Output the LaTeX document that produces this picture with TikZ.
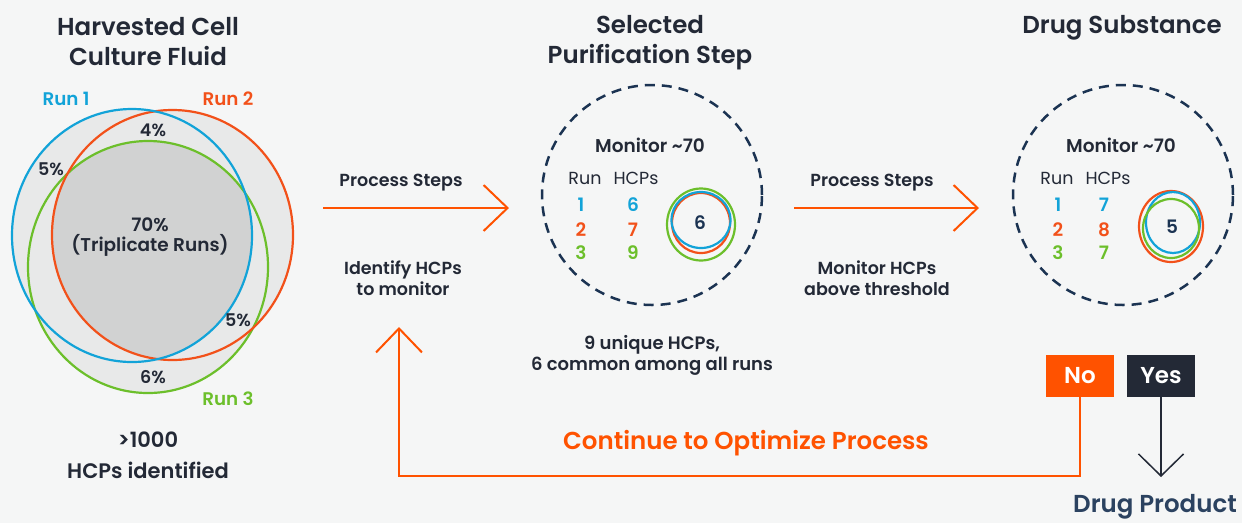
\documentclass[tikz,border=0pt]{standalone}
\usepackage{fontspec}
\setmainfont{Poppins}
\IfFontExistsTF{Poppins SemiBold}{\newfontfamily\sbf{Poppins SemiBold}}{\newfontfamily\sbf{Poppins}[FakeBold=1.2]}
\usetikzlibrary{arrows.meta}
\definecolor{bg}{HTML}{F5F6F6}
\definecolor{cblue}{HTML}{12A3D8}
\definecolor{cred}{HTML}{F2511A}
\definecolor{corg}{HTML}{FF5200}
\definecolor{cgreen}{HTML}{6CBF2B}
\definecolor{dark}{HTML}{232936}
\definecolor{navy}{HTML}{1B3352}
\definecolor{dpnavy}{HTML}{2B4260}
\definecolor{vlight}{HTML}{E8E9E9}
\definecolor{vdark}{HTML}{D1D2D2}
\tikzset{
  ttl/.style={font=\sbf\fontsize{24.5}{30}\selectfont, text=dark, align=center},
  lbl/.style={font=\sbf\fontsize{17.5}{21}\selectfont, text=dark, align=center},
  pct/.style={font=\sbf\fontsize{17.5}{20}\selectfont, text=dark, align=center},
  runl/.style={font=\sbf\fontsize{18.3}{20}\selectfont},
  hdr/.style={font=\fontsize{17.5}{20}\selectfont, text=dark},
  num/.style={font=\sbf\fontsize{18.5}{20}\selectfont},
  flowar/.style={draw=corg, line width=2pt, -{Straight Barb[length=24pt,width=46pt,line width=2pt]}},
  yesar/.style={draw=dark, line width=1.5pt, -{Straight Barb[length=22pt,width=45pt,line width=1.5pt]}},
  dcirc/.style={draw=navy, line width=2.5pt, dash pattern=on 10pt off 7pt, circle, minimum size=220pt, inner sep=0pt},
  vennline/.style={line width=2.2pt},
  smallc/.style={line width=2.2pt},
  decbox/.style={font=\sbf\fontsize{23}{24}\selectfont, text=white, minimum width=68pt, minimum height=42pt, inner sep=0pt},
}
\begin{document}
\begin{tikzpicture}[x=1pt,y=-1pt]
\fill[bg] (0,0) rectangle (1242,523);
\useasboundingbox (0,0) rectangle (1242,523);

% titles
\node[ttl] (t1) at (148,42) {Harvested Cell\\Culture Fluid};
\node[ttl] (t2) at (650,43) {Selected\\Purification Step};
\node[ttl] (t3) at (1122,28) {Drug Substance};

% Venn
\fill[vlight] (132,235.5) ellipse [x radius=120pt, y radius=126.5pt];
\fill[vlight] (172.5,235) ellipse [x radius=120.5pt, y radius=125pt];
\fill[vlight] (148,267) ellipse [x radius=120pt, y radius=126pt];
\begin{scope}
  \clip (132,235.5) ellipse [x radius=120pt, y radius=126.5pt];
  \clip (172.5,235) ellipse [x radius=120.5pt, y radius=125pt];
  \fill[vdark] (148,267) ellipse [x radius=120pt, y radius=126pt];
\end{scope}
\draw[vennline, cgreen] (148,267) ellipse [x radius=120pt, y radius=126pt];
\draw[vennline, cred] (172.5,235) ellipse [x radius=120.5pt, y radius=125pt];
\draw[vennline, cblue] (132,235.5) ellipse [x radius=120pt, y radius=126.5pt];

\node[runl, text=cblue] (r1) at (66,99) {Run 1};
\node[runl, text=cred] (r2) at (228,99) {Run 2};
\node[runl, text=cgreen] (r3) at (228,399) {Run 3};
\node[pct] (p4) at (153,130) {4\%};
\node[pct] (p5a) at (51,169) {5\%};
\node[pct, font=\sbf\fontsize{18.5}{20}\selectfont] (p70) at (150,237) {70\%\\(Triplicate Runs)};
\node[pct] (p5b) at (238,320) {5\%};
\node[pct] (p6) at (153,377) {6\%};
\node[ttl, font=\sbf\fontsize{21}{31}\selectfont] (hcp) at (148,455) {>1000\\HCPs identified};

% middle circle
\node[dcirc] (mid) at (652,195) {};
\node[lbl, font=\sbf\fontsize{18.5}{20}\selectfont] (m1) at (650,145) {Monitor \textasciitilde70};
\node[hdr] (mrun) at (585,178) {Run};
\node[hdr] (mhcp) at (636,178) {HCPs};
\node[num, text=cblue] (ma1) at (581,205) {1};
\node[num, text=cred] (ma2) at (581,230) {2};
\node[num, text=cgreen] (ma3) at (581,253) {3};
\node[num, text=cblue] (mb1) at (633,205) {6};
\node[num, text=cred] (mb2) at (633,230) {7};
\node[num, text=cgreen] (mb3) at (633,253) {9};
\draw[smallc, cgreen] (701,224.5) ellipse [x radius=34pt, y radius=36pt];
\draw[smallc, cred] (701,223) ellipse [x radius=29pt, y radius=30pt];
\draw[smallc, cblue] (701,220) ellipse [x radius=29.5pt, y radius=28pt];
\node[num, text=navy] (m6) at (700,223) {6};

% right circle
\node[dcirc] (rgt) at (1123,195) {};
\node[lbl, font=\sbf\fontsize{18.5}{20}\selectfont] (rm1) at (1121,145) {Monitor \textasciitilde70};
\node[hdr] (rrun) at (1057,178) {Run};
\node[hdr] (rhcp) at (1108,178) {HCPs};
\node[num, text=cblue] (ra1) at (1058,205) {1};
\node[num, text=cred] (ra2) at (1058,230) {2};
\node[num, text=cgreen] (ra3) at (1058,253) {3};
\node[num, text=cblue] (rb1) at (1104,205) {7};
\node[num, text=cred] (rb2) at (1104,230) {8};
\node[num, text=cgreen] (rb3) at (1104,253) {7};
\draw[smallc, cred] (1171,226.5) ellipse [x radius=32pt, y radius=35.5pt];
\draw[smallc, cblue] (1173,222.5) ellipse [x radius=27pt, y radius=30.5pt];
\draw[smallc, cgreen] (1171,228.5) ellipse [x radius=28pt, y radius=29.5pt];
\node[num, text=navy] (r5) at (1172,227) {5};

% arrows and labels
\coordinate (a1s) at (323,208);
\coordinate (a1e) at (509,208);
\draw[flowar] (a1s) -- (a1e);
\node[lbl] (ps1) at (401,183) {Process Steps};
\node[lbl] (id1) at (403,278) {Identify HCPs\\to monitor};

\coordinate (a2s) at (794,208);
\coordinate (a2e) at (979,208);
\draw[flowar] (a2s) -- (a2e);
\node[lbl] (ps2) at (872,183) {Process Steps};
\node[lbl] (mo2) at (877,278) {Monitor HCPs\\above threshold};

\node[lbl, font=\sbf\fontsize{18}{21}\selectfont] (uniq) at (652,355) {9 unique HCPs,\\6 common among all runs};

% decision
\node[decbox, fill=corg] (no) at (1080,376) {No};
\node[decbox, fill=dark] (yes) at (1161,376) {Yes};
\coordinate (rc) at (399,476);
\coordinate (rt) at (399,327);
\draw[flowar] (no.south) |- (rc) -- (rt);
\node[font=\sbf\fontsize{24.5}{26}\selectfont, text=corg] (cont) at (746,443) {Continue to Optimize Process};
\coordinate (ye) at (1161,477);
\draw[yesar] (yes.south) -- (ye);
\node[font=\sbf\fontsize{24.5}{26}\selectfont, text=dpnavy] (dp) at (1155,507) {Drug Product};
\end{tikzpicture}
\end{document}
